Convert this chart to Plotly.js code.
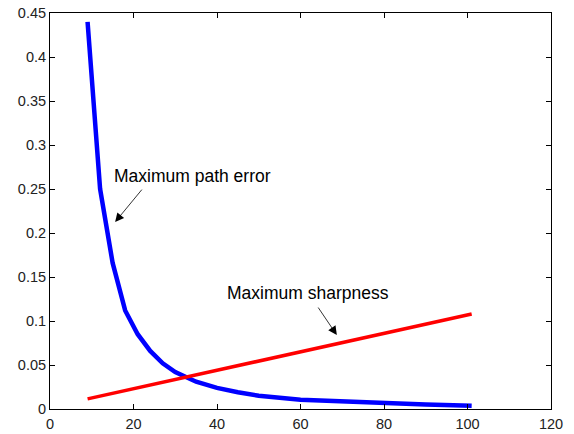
<!DOCTYPE html>
<html>
<head>
<meta charset="utf-8">
<script src="https://cdn.plot.ly/plotly-3.0.1.min.js"></script>
<style>html,body{margin:0;padding:0;background:#fff;}#chart{width:574px;height:434px;}</style>
</head>
<body>
<div id="chart"></div>
<script>
// Maximum path error (blue)
const errX = [9, 12, 15, 18, 21, 24, 27, 30, 35, 40, 45, 50, 60, 70, 80, 90, 101];
const errY = [0.44, 0.25, 0.166, 0.112, 0.085, 0.066, 0.052, 0.042, 0.031, 0.024, 0.019, 0.015, 0.0105, 0.0085, 0.0068, 0.005, 0.0038];
// Maximum sharpness (red)
const sharpX = [9, 101];
const sharpY = [0.0115, 0.108];

const xTicks = [0, 20, 40, 60, 80, 100, 120];
const yTicks = [0, 0.05, 0.1, 0.15, 0.2, 0.25, 0.3, 0.35, 0.4, 0.45];
const yTickText = ['0', '0.05', '0.1', '0.15', '0.2', '0.25', '0.3', '0.35', '0.4', '0.45'];

const traces = [
  {x: errX, y: errY, mode: 'lines', line: {color: '#0000ff', width: 4.5}, hoverinfo: 'skip'},
  {x: sharpX, y: sharpY, mode: 'lines', line: {color: '#ff0000', width: 3.5}, hoverinfo: 'skip'}
];

const annFont = {family: 'Liberation Sans, Arial, sans-serif', size: 17.5, color: '#000'};
const layout = {
  width: 574, height: 434,
  margin: {l: 50, r: 23, t: 13, b: 25},
  paper_bgcolor: '#fff', plot_bgcolor: '#fff',
  showlegend: false,
  font: {family: 'Liberation Sans, Arial, sans-serif', size: 14.5, color: '#222'},
  xaxis: {
    range: [0, 120], tickvals: xTicks, ticks: 'inside', ticklen: 5, tickcolor: '#000',
    showline: true, linecolor: '#000', linewidth: 1, mirror: 'ticks', showgrid: false, zeroline: false,
    ticklabelstandoff: 2
  },
  yaxis: {
    range: [0, 0.45], tickvals: yTicks, ticktext: yTickText, ticks: 'inside', ticklen: 5, tickcolor: '#000',
    showline: true, linecolor: '#000', linewidth: 1, mirror: 'ticks', showgrid: false, zeroline: false
  },
  annotations: [
    {x: 15.6, y: 0.2125, ax: 22.3, ay: 0.251, xref: 'x', yref: 'y', axref: 'x', ayref: 'y',
     text: '', showarrow: true, arrowhead: 2, arrowsize: 2.2, arrowwidth: 0.8, arrowcolor: '#000'},
    {x: 68.7, y: 0.084, ax: 64, ay: 0.117, xref: 'x', yref: 'y', axref: 'x', ayref: 'y',
     text: '', showarrow: true, arrowhead: 2, arrowsize: 2.2, arrowwidth: 0.8, arrowcolor: '#000'},
    {x: 14.9, y: 0.265, xref: 'x', yref: 'y', xanchor: 'left', yanchor: 'middle',
     text: 'Maximum path error', showarrow: false, font: annFont},
    {x: 41.9, y: 0.1316, xref: 'x', yref: 'y', xanchor: 'left', yanchor: 'middle',
     text: 'Maximum sharpness', showarrow: false, font: annFont}
  ]
};

Plotly.newPlot('chart', traces, layout, {staticPlot: true, displayModeBar: false});
</script>
</body>
</html>
